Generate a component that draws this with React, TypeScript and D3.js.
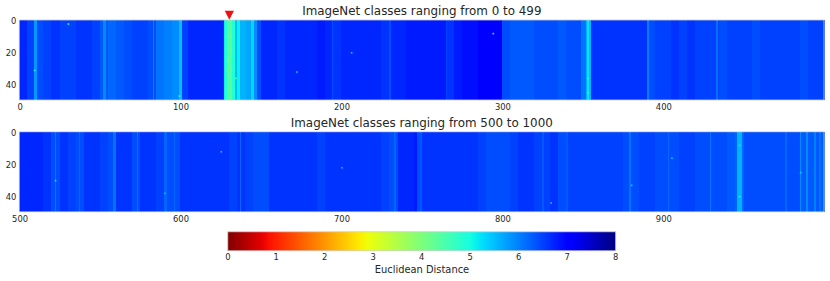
import React from "react";
import * as d3 from "d3";

// Estimated mean distance per 5-class bin
const topBins = [
  6.7, 6.5, 6.4, 6.5, 6.6, 6.5, 6.5, 6.6, 6.6, 6.5,
  6.3, 6.2, 6.3, 6.4, 6.5, 6.5, 6.4, 6.1, 6.0, 5.9,
  6.5, 6.7, 6.7, 6.7, 6.7, 6.7, 5.2, 5.4, 5.6, 6.4,
  6.7, 6.7, 6.6, 6.7, 6.7, 6.7, 6.7, 6.8, 6.7, 6.6,
  6.7, 6.7, 6.7, 6.7, 6.7, 6.6, 6.7, 6.7, 6.8, 6.8,
  6.8, 6.8, 6.8, 6.6, 6.8, 6.9, 6.9, 7.0, 7.1, 7.1,
  6.4, 6.3, 6.3, 6.3, 6.4, 6.4, 6.4, 6.3, 6.4, 6.4,
  6.3, 6.6, 6.6, 6.6, 6.6, 6.6, 6.6, 6.6, 6.4, 6.5,
  6.5, 6.6, 6.5, 6.6, 6.5, 6.5, 6.5, 6.4, 6.5, 6.5,
  6.5, 6.4, 6.5, 6.5, 6.5, 6.5, 6.5, 6.4, 6.5, 6.5,
];
// [first class, last class, distance]: narrow stripes
const topStripes = [
  [9, 10, 5.8], [52, 53, 5.9], [83, 83, 6.0], [99, 100, 5.5], [127, 127, 5.1],
  [128, 128, 4.8], [129, 131, 4.4], [132, 133, 4.9], [134, 134, 5.5], [135, 136, 5.1],
  [137, 140, 5.6], [141, 143, 5.7], [144, 145, 5.3], [146, 147, 5.9], [194, 194, 6.4],
  [230, 230, 6.4], [265, 265, 6.5], [349, 351, 6.1], [352, 352, 5.6], [353, 353, 5.2],
  [354, 354, 5.6], [390, 390, 6.0], [433, 433, 6.1],
];
// [class, row, distance]: individually visible cells
const topCells = [
  [30, 2, 4.6], [129, 25, 3.8], [130, 28, 3.7], [129, 31, 3.7], [130, 34, 3.9],
  [129, 43, 3.8], [130, 10, 4.0], [131, 18, 4.0], [134, 36, 4.1], [294, 8, 5.0],
  [206, 20, 5.4], [172, 32, 5.4], [353, 36, 4.9], [353, 45, 4.8], [9, 31, 5.0], [99, 47, 4.9],
];

const bottomBins = [
  6.7, 6.7, 6.7, 6.6, 6.4, 6.6, 6.5, 6.4, 6.6, 6.6,
  6.5, 6.4, 6.6, 6.6, 6.4, 6.6, 6.6, 6.5, 6.4, 6.4,
  6.6, 6.6, 6.6, 6.6, 6.6, 6.6, 6.5, 6.6, 6.5, 6.4,
  6.4, 6.6, 6.6, 6.6, 6.6, 6.6, 6.6, 6.5, 6.6, 6.6,
  6.6, 6.6, 6.6, 6.6, 6.6, 6.5, 6.4, 6.7, 6.7, 6.4,
  6.6, 6.6, 6.6, 6.6, 6.6, 6.6, 6.6, 6.5, 6.4, 6.4,
  6.4, 6.5, 6.6, 6.6, 6.5, 6.5, 6.6, 6.4, 6.5, 6.5,
  6.5, 6.5, 6.5, 6.5, 6.5, 6.4, 6.4, 6.5, 6.5, 6.4,
  6.4, 6.4, 6.5, 6.5, 6.4, 6.4, 6.4, 6.4, 6.3, 6.2,
  6.4, 6.4, 6.4, 6.4, 6.4, 6.4, 6.4, 6.3, 6.3, 6.3,
];
const bottomStripes = [
  [522, 522, 6.1], [537, 537, 6.2], [558, 559, 6.1], [573, 573, 6.1], [590, 591, 6.2],
  [596, 596, 6.2], [637, 637, 6.2], [733, 733, 6.2], [745, 746, 6.8], [749, 749, 6.3],
  [825, 825, 6.3], [840, 840, 6.3], [879, 879, 6.1], [903, 903, 6.2], [929, 929, 6.1],
  [946, 948, 5.6], [976, 976, 6.2], [985, 985, 5.9], [989, 989, 5.9], [994, 994, 6.0], [997, 997, 6.1],
];
const bottomCells = [
  [522, 30, 5.2], [947, 40, 5.0], [947, 8, 5.1], [985, 25, 5.3], [625, 12, 5.4], [590, 38, 5.4],
  [700, 22, 5.5], [905, 16, 5.4], [830, 44, 5.4], [880, 33, 5.3],
];

const topClasses = d3.range(0, 500);
const bottomClasses = d3.range(500, 1000);
const topTicks = [0, 100, 200, 300, 400];
const bottomTicks = [500, 600, 700, 800, 900];
const rowTicks = [0, 20, 40];
const colorTicks = [0, 1, 2, 3, 4, 5, 6, 7, 8];
const rows = 50;
const markedClass = 130;

const W = 830;
const H = 281;
const textColor = "#262626";
const spine = "#cccccc";
const font = "'DejaVu Sans', sans-serif";

// Reversed jet colormap over 0..8 (distance 0 = dark red, 8 = navy)
const toJet = d3.scaleLinear().domain([0, 8]).range([1, 0]);
const red = d3.scaleLinear().domain([0, 0.35, 0.66, 0.89, 1]).range([0, 0, 1, 1, 0.5]).clamp(true);
const green = d3.scaleLinear().domain([0, 0.125, 0.375, 0.64, 0.91, 1]).range([0, 0, 1, 1, 0, 0]).clamp(true);
const blue = d3.scaleLinear().domain([0, 0.11, 0.34, 0.65, 1]).range([0.5, 1, 1, 0, 0]).clamp(true);
const color = (v: number) => {
  const t = toJet(v);
  return d3.rgb(red(t) * 255, green(t) * 255, blue(t) * 255).formatRgb();
};

function Panel({ top, classes, bins, stripes, cells, ticks, title, titleY, base }: any) {
  const x = d3.scaleLinear().domain([base - 0.5, base + 499.5]).range([19.3, 824]);
  const y = d3.scaleLinear().domain([-0.5, rows - 0.5]).range([top, top + 80]);
  const columnValue = (c: number) => {
    const s = stripes.find((d: number[]) => c >= d[0] && c <= d[1]);
    return s ? s[2] : bins[Math.floor((c - base) / 5)];
  };
  return (
    <g fontFamily={font} fill={textColor}>
      <g shapeRendering="crispEdges">
        {classes.map((c: number) => (
          <rect key={c} x={x(c - 0.5)} width={x(c + 0.5) - x(c - 0.5) + 0.6} y={y(-0.5)} height={y(rows - 0.5) - y(-0.5)} fill={color(columnValue(c))} />
        ))}
      </g>
      {cells.map((d: number[], i: number) => (
        <rect key={i} x={x(d[0] - 0.5)} width={x(1) - x(0)} y={y(d[1] - 0.5)} height={y(1) - y(0)} fill={color(d[2])} />
      ))}
      <rect x={x(base - 0.5)} y={y(-0.5)} width={x(base + 499.5) - x(base - 0.5)} height={80} fill="none" stroke={spine} strokeWidth={0.8} />
      {ticks.map((t: number) => (
        <text key={t} x={x(t)} y={top + 86.7} dy="0.36em" textAnchor="middle" fontSize={8.4}>{t}</text>
      ))}
      {rowTicks.map((t) => (
        <text key={t} x={16.3} y={y(t)} dy="0.36em" textAnchor="end" fontSize={8.4}>{t}</text>
      ))}
      <text x={421.8} y={titleY} textAnchor="middle" fontSize={11.9}>{title}</text>
    </g>
  );
}

export default function App() {
  const cx = d3.scaleLinear().domain([0, 8]).range([227.8, 615.7]);
  const markerX = d3.scaleLinear().domain([-0.5, 499.5]).range([19.3, 824]);
  const mx = markerX(markedClass);
  const triangle = d3.line()([[mx - 4.6, 10.8], [mx + 4.6, 10.8], [mx, 19.8]]) + "Z";
  const gradientStops = d3.range(0, 8.01, 0.125);
  return (
    <svg width={W} height={H} viewBox={`0 0 ${W} ${H}`} style={{ position: "absolute", left: 0, top: 0, background: "#fff" }}>
      <Panel top={20} classes={topClasses} bins={topBins} stripes={topStripes} cells={topCells} ticks={topTicks} base={0} title="ImageNet classes ranging from 0 to 499" titleY={14.5} />
      <Panel top={131.8} classes={bottomClasses} bins={bottomBins} stripes={bottomStripes} cells={bottomCells} ticks={bottomTicks} base={500} title="ImageNet classes ranging from 500 to 1000" titleY={126.5} />
      <path d={triangle as string} fill="#f01010" />
      <defs>
        <linearGradient id="jet" x1="0" x2="1" y1="0" y2="0">
          {gradientStops.map((v) => (
            <stop key={v} offset={v / 8} stopColor={color(v)} />
          ))}
        </linearGradient>
      </defs>
      <rect x={cx(0)} y={231.8} width={cx(8) - cx(0)} height={19} fill="url(#jet)" stroke={spine} strokeWidth={0.8} />
      <g fontFamily={font} fill={textColor}>
        {colorTicks.map((t) => (
          <text key={t} x={cx(t)} y={257.4} dy="0.36em" textAnchor="middle" fontSize={8.4}>{t}</text>
        ))}
        <text x={422} y={272.5} textAnchor="middle" fontSize={9.9}>Euclidean Distance</text>
      </g>
    </svg>
  );
}
